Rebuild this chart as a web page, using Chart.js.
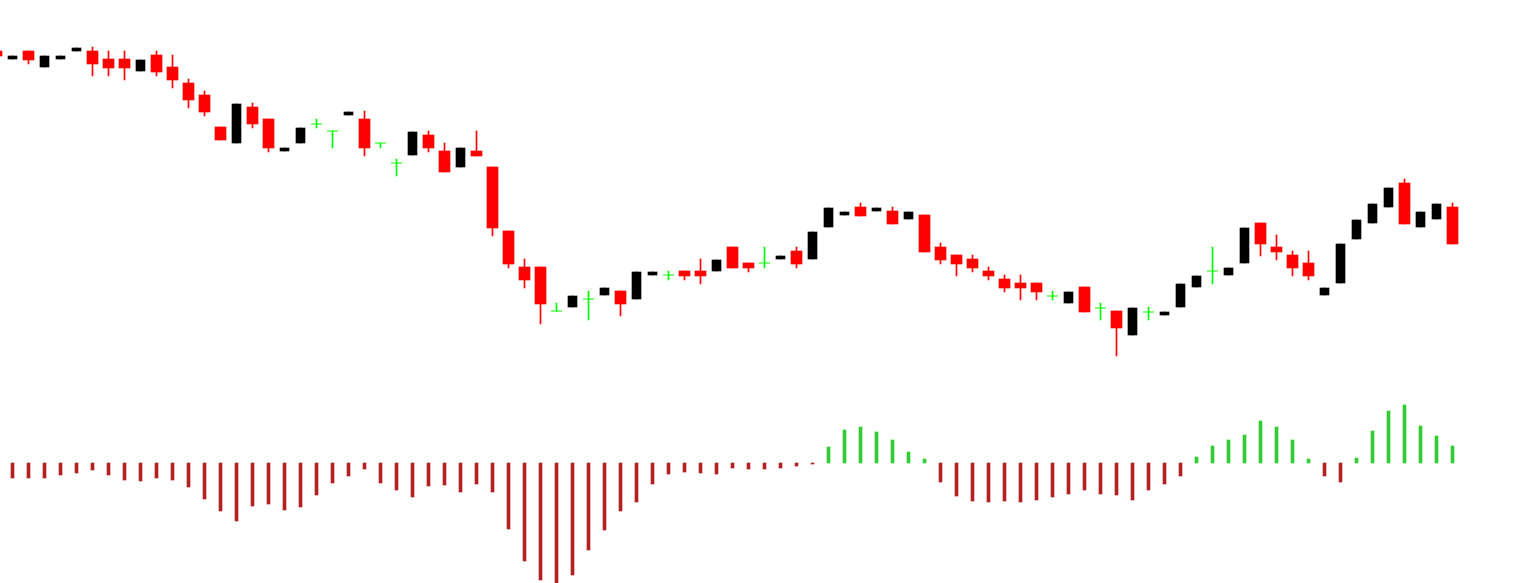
<!DOCTYPE html>
<html>
<head>
<meta charset="utf-8">
<script src="https://cdn.jsdelivr.net/npm/chart.js@4/dist/chart.umd.min.js"></script>
<style>
  html, body { margin: 0; padding: 0; background: #ffffff; }
  #wrap { width: 1535px; height: 583px; position: relative; }
</style>
</head>
<body>
<div id="wrap"><canvas id="priceChart"></canvas></div>
<script>
// ローソク足データ (始値・高値・安値・終値)
const opens = [1.0949,1.0941,1.0949,1.0933,1.0941,1.0949,1.0949,1.0941,1.0941,1.0929,1.0945,1.0933,1.0917,1.0905,1.0873,1.0857,1.0893,1.0881,1.0849,1.0857,1.0876,1.0869,1.0885,1.0881,1.0857,1.0837,1.0845,1.0865,1.0849,1.0833,1.0849,1.0833,1.0769,1.0733,1.0733,1.0689,1.0693,1.0701,1.0705,1.0709,1.0701,1.0725,1.0725,1.0729,1.0729,1.0729,1.0753,1.0737,1.0737,1.0741,1.0749,1.0741,1.0773,1.0785,1.0793,1.0789,1.0789,1.0781,1.0785,1.0753,1.0745,1.0741,1.0729,1.0721,1.0717,1.0717,1.0704,1.0697,1.0713,1.0692,1.0689,1.0665,1.0688,1.0685,1.0693,1.0713,1.0729,1.0725,1.0737,1.0777,1.0753,1.0745,1.0737,1.0705,1.0717,1.0761,1.0777,1.0793,1.0817,1.0773,1.0781,1.0793];
const highs = [1.0949,1.0944,1.0949,1.0944,1.0944,1.0952,1.0953,1.0949,1.0949,1.0940,1.0949,1.0945,1.0921,1.0909,1.0873,1.0896,1.0897,1.0881,1.0852,1.0872,1.0881,1.0869,1.0888,1.0889,1.0857,1.0841,1.0868,1.0869,1.0857,1.0852,1.0869,1.0833,1.0769,1.0741,1.0733,1.0697,1.0704,1.0709,1.0712,1.0709,1.0728,1.0728,1.0729,1.0729,1.0741,1.0740,1.0753,1.0737,1.0753,1.0744,1.0753,1.0768,1.0792,1.0788,1.0797,1.0792,1.0793,1.0788,1.0785,1.0757,1.0745,1.0745,1.0733,1.0725,1.0725,1.0717,1.0709,1.0708,1.0713,1.0697,1.0689,1.0692,1.0693,1.0688,1.0716,1.0724,1.0753,1.0732,1.0772,1.0777,1.0765,1.0749,1.0749,1.0712,1.0756,1.0780,1.0796,1.0812,1.0821,1.0788,1.0796,1.0797];
const lows = [1.0944,1.0941,1.0936,1.0933,1.0941,1.0949,1.0924,1.0924,1.0920,1.0929,1.0924,1.0912,1.0892,1.0884,1.0860,1.0857,1.0872,1.0848,1.0849,1.0857,1.0872,1.0852,1.0885,1.0844,1.0852,1.0824,1.0845,1.0848,1.0828,1.0833,1.0844,1.0764,1.0732,1.0712,1.0676,1.0689,1.0693,1.0680,1.0705,1.0684,1.0701,1.0725,1.0720,1.0720,1.0716,1.0729,1.0732,1.0728,1.0732,1.0741,1.0732,1.0741,1.0773,1.0785,1.0784,1.0789,1.0776,1.0781,1.0748,1.0736,1.0724,1.0728,1.0720,1.0708,1.0700,1.0700,1.0700,1.0697,1.0688,1.0680,1.0644,1.0665,1.0680,1.0685,1.0693,1.0713,1.0716,1.0725,1.0737,1.0744,1.0740,1.0724,1.0720,1.0705,1.0717,1.0761,1.0777,1.0793,1.0776,1.0773,1.0781,1.0756];
const closes = [1.0944,1.0944,1.0940,1.0944,1.0944,1.0952,1.0936,1.0932,1.0932,1.0940,1.0928,1.0920,1.0900,1.0888,1.0860,1.0896,1.0876,1.0852,1.0852,1.0872,1.0876,1.0869,1.0888,1.0852,1.0857,1.0837,1.0868,1.0852,1.0828,1.0852,1.0844,1.0772,1.0736,1.0720,1.0696,1.0689,1.0704,1.0701,1.0712,1.0696,1.0728,1.0728,1.0725,1.0724,1.0724,1.0740,1.0732,1.0732,1.0737,1.0744,1.0736,1.0768,1.0792,1.0788,1.0784,1.0792,1.0776,1.0788,1.0748,1.0740,1.0736,1.0732,1.0724,1.0712,1.0712,1.0708,1.0704,1.0708,1.0688,1.0692,1.0672,1.0692,1.0688,1.0688,1.0716,1.0724,1.0729,1.0732,1.0772,1.0756,1.0748,1.0732,1.0724,1.0712,1.0756,1.0780,1.0796,1.0812,1.0776,1.0788,1.0796,1.0756];

// オシレーター (ヒストグラム) — 最初の足は値なし
const histogram = [null,
  -0.00015,-0.00015,-0.00015,-0.00012,-0.00010,-0.00007,-0.00012,-0.00017,-0.00018,-0.00015,-0.00017,-0.00024,-0.00036,-0.00048,-0.00058,-0.00043,-0.00041,-0.00047,-0.00044,-0.00032,-0.00020,-0.00013,-0.00006,-0.00020,-0.00027,
  -0.00034,-0.00023,-0.00022,-0.00029,-0.00021,-0.00029,-0.00066,-0.00098,-0.00117,-0.00120,-0.00112,-0.00087,-0.00067,-0.00048,-0.00039,-0.00021,-0.00011,-0.00009,-0.00010,-0.00011,-0.00005,-0.00006,-0.00006,-0.00005,-0.00003,
  -0.00001,0.00016,0.00033,0.00036,0.00031,0.00023,0.00011,0.00004,-0.00019,-0.00033,-0.00038,-0.00039,-0.00038,-0.00039,-0.00037,-0.00034,-0.00031,-0.00027,-0.00031,-0.00032,-0.00037,-0.00027,-0.00021,-0.00013,0.00006,
  0.00017,0.00023,0.00028,0.00042,0.00036,0.00023,0.00004,-0.00013,-0.00019,0.00005,0.00032,0.00052,0.00058,0.00037,0.00027,0.00017];

const barIndex = opens.map((_, i) => i);

const BULL_COLOR = '#000000';
const BEAR_COLOR = '#ff0000';
const DOJI_COLOR = '#00ff00';
const HIST_UP = '#32cd32';
const HIST_DOWN = '#b22222';

function candleType(i) {
  if (closes[i] > opens[i]) return 'bull';
  if (closes[i] < opens[i]) return 'bear';
  return 'doji';
}

const typeColor = { bull: BULL_COLOR, bear: BEAR_COLOR, doji: DOJI_COLOR };

// 実体・ヒゲ・十字線をデータセットに分ける
const wickData = barIndex.map((i) => ({ x: i, y: [lows[i], highs[i]] }));
const wickColors = barIndex.map((i) => typeColor[candleType(i)]);
const bullData = barIndex.map((i) => ({ x: i, y: candleType(i) === 'bull' ? [opens[i], closes[i]] : null }));
const bearData = barIndex.map((i) => ({ x: i, y: candleType(i) === 'bear' ? [opens[i], closes[i]] : null }));
const dojiData = barIndex.filter((i) => candleType(i) === 'doji').map((i) => ({ x: i, y: opens[i] }));
const histData = barIndex.map((i) => ({ x: i, y: histogram[i] }));
const histColors = barIndex.map((i) => (histogram[i] !== null && histogram[i] >= 0 ? HIST_UP : HIST_DOWN));

const ctx = document.getElementById('priceChart').getContext('2d');

new Chart(ctx, {
  type: 'bar',
  data: {
    datasets: [
      {
        label: 'bull',
        data: bullData,
        backgroundColor: BULL_COLOR,
        barThickness: 9,
        grouped: false,
        yAxisID: 'y',
        order: 0,
      },
      {
        label: 'bear',
        data: bearData,
        backgroundColor: BEAR_COLOR,
        barThickness: 11,
        grouped: false,
        yAxisID: 'y',
        order: 0,
      },
      {
        type: 'line',
        label: 'doji',
        data: dojiData,
        showLine: false,
        pointStyle: 'line',
        pointRadius: 5.5,
        pointBorderWidth: 1,
        pointBorderColor: DOJI_COLOR,
        pointBackgroundColor: DOJI_COLOR,
        yAxisID: 'y',
        order: 0,
      },
      {
        label: 'wick',
        data: wickData,
        backgroundColor: wickColors,
        barThickness: 1,
        grouped: false,
        yAxisID: 'y',
        order: 1,
      },
      {
        label: 'histogram',
        data: histData,
        backgroundColor: histColors,
        barThickness: 3,
        grouped: false,
        yAxisID: 'y2',
        order: 2,
      },
    ],
  },
  options: {
    responsive: true,
    maintainAspectRatio: false,
    animation: false,
    events: [],
    layout: { padding: 0, autoPadding: false },
    plugins: {
      legend: { display: false },
      tooltip: { enabled: false },
    },
    scales: {
      x: { type: 'linear', min: 0.21875, max: 96.15625, offset: false, display: false },
      y: { min: 1.0417, max: 1.1, display: false },
      y2: { min: -0.0012, max: 0.00463, display: false },
    },
  },
});
</script>
</body>
</html>
